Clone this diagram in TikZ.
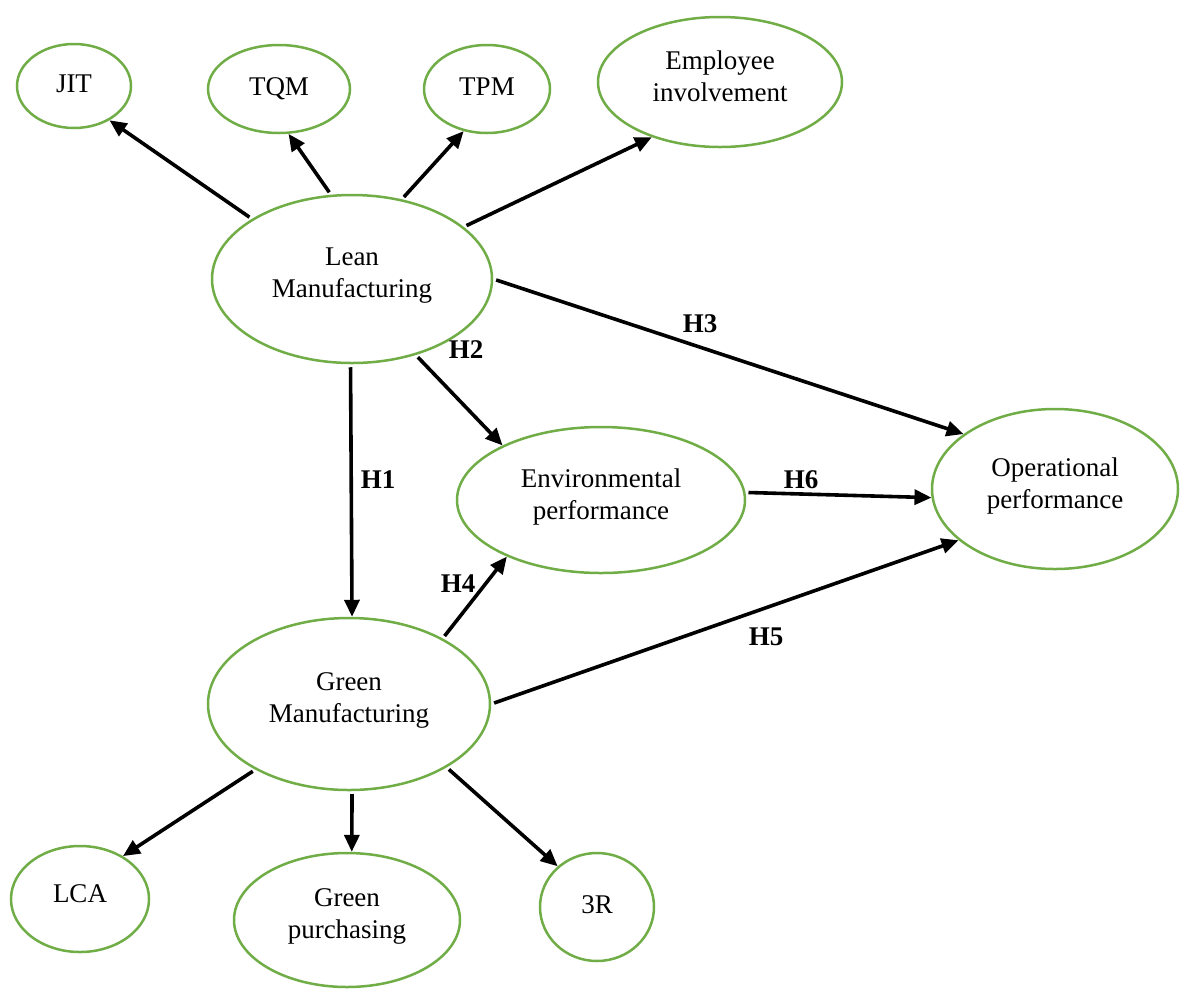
\documentclass[tikz,border=0pt]{standalone}
\usepackage{fontspec}
\setmainfont{Liberation Serif}
\usetikzlibrary{shapes.geometric,arrows.meta}
\definecolor{eg}{HTML}{70AD47}
\begin{document}
\begin{tikzpicture}[x=1pt,y=-1pt,
  ell/.style={ellipse, draw=eg, line width=2.5pt, inner sep=0pt, align=center,
    font=\fontsize{27}{32}\selectfont, text depth=12pt},
  one/.style={text depth=4pt},
  arr/.style={line width=3.6pt, -{Triangle[length=17pt,width=15pt]}, shorten <=3pt},
  hlab/.style={font=\fontsize{27}{32}\selectfont\bfseries, inner sep=0pt}]
\useasboundingbox (0,0) rectangle (1180,989);
% nodes
\node[ell, one, minimum width=114pt, minimum height=84pt]  (jit) at (74,86)   {JIT};
\node[ell, one, minimum width=142pt, minimum height=88pt]  (tqm) at (279,89)  {TQM};
\node[ell, one, minimum width=126pt, minimum height=88pt]  (tpm) at (487,89)  {TPM};
\node[ell, minimum width=244pt, minimum height=130pt] (ei)  at (720,82)  {Employee\\involvement};
\node[ell, minimum width=280pt, minimum height=168pt] (lm)  at (352,279) {Lean\\Manufacturing};
\node[ell, minimum width=288pt, minimum height=146pt] (ep)  at (601,500) {Environmental\\performance};
\node[ell, minimum width=246pt, minimum height=160pt] (op)  at (1055,489) {Operational\\performance};
\node[ell, minimum width=282pt, minimum height=172pt] (gm)  at (349,704) {Green\\Manufacturing};
\node[ell, text depth=10pt, minimum width=138pt, minimum height=106pt] (lca) at (80,899)  {LCA};
\node[ell, minimum width=226pt, minimum height=134pt] (gp)  at (347,920) {Green\\purchasing};
\node[ell, one, minimum width=114pt, minimum height=108pt] (r3)  at (597,907) {3R};
% connectors
\draw[arr] (lm.149.8) -- (jit.-44.2);
\draw[arr] (lm.104.2) -- (tqm.-78.7);
\draw[arr] (lm.58.6)  -- (tpm.-119.4);
\draw[arr] (lm.25.7)  -- (ei.-141.8);
\draw[arr] (lm.0)     -- (op.149.4);
\draw[arr] (lm.-50.2) -- (ep.151.9);
\draw[arr] (lm.-91.4) -- (gm.88.1);
\draw[arr] (ep.3.2)   -- (op.-176.7);
\draw[arr] (gm.35.3)  -- (ep.-149.8);
\draw[arr] (gm.0.4)   -- (op.-152.5);
\draw[arr] (gm.-145.6) -- (lca.45.6);
\draw[arr] (gm.-88.7) -- (gp.86.8);
\draw[arr] (gm.-33.7) -- (r3.134.3);
% labels
\node[hlab] (h1) at (378,480) {H1};
\node[hlab] (h2) at (466,350) {H2};
\node[hlab] (h3) at (700,324) {H3};
\node[hlab] (h4) at (458,584) {H4};
\node[hlab] (h5) at (766,637) {H5};
\node[hlab] (h6) at (801,480) {H6};
\end{tikzpicture}
\end{document}
